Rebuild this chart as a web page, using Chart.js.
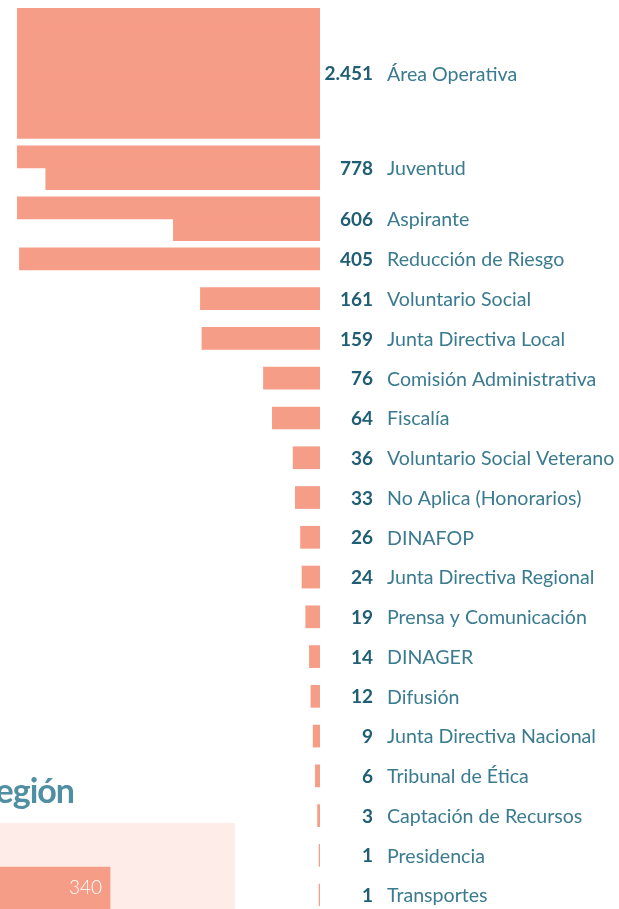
<!DOCTYPE html>
<html lang="es">
<head>
    <meta charset="UTF-8">
    <title>Personal por cargo</title>
    <script src="https://cdn.jsdelivr.net/npm/chart.js"></script>
    <style>
        body {
            margin: 0;
            width: 619px;
            height: 909px;
            overflow: hidden;
            position: relative;
            background: #fff;
            font-family: Lato, sans-serif;
        }
        #cargoWrap {
            position: absolute;
            left: 0; top: 0;
            width: 619px; height: 909px;
        }
        #regionTitle {
            position: absolute;
            right: 545px;
            top: 773px;
            font-size: 34px;
            line-height: 34px;
            font-weight: 700;
            letter-spacing: -1px;
            color: #4f8ea3;
            white-space: nowrap;
        }
        #regionWrap {
            position: absolute;
            left: 0; top: 823px;
            width: 235px; height: 88px;
        }
    </style>
</head>
<body>
    <div id="cargoWrap"><canvas id="cargoChart"></canvas></div>
    <div id="regionTitle">Región</div>
    <div id="regionWrap"><canvas id="regionChart"></canvas></div>

    <script>
        // Personas por cargo
        const cargos = ['Área Operativa', 'Juventud', 'Aspirante', 'Reducción de Riesgo', 'Voluntario Social',
            'Junta Directiva Local', 'Comisión Administrativa', 'Fiscalía', 'Voluntario Social Veterano',
            'No Aplica (Honorarios)', 'DINAFOP', 'Junta Directiva Regional', 'Prensa y Comunicación', 'DINAGER',
            'Difusión', 'Junta Directiva Nacional', 'Tribunal de Ética', 'Captación de Recursos', 'Presidencia', 'Transportes'];
        const personas = [2451, 778, 606, 405, 161, 159, 76, 64, 36, 33, 26, 24, 19, 14, 12, 9, 6, 3, 1, 1];

        // Región (the part of the next chart that is visible)
        const regiones = ['', 'Región'];
        const regionValores = [null, 340];
        const regionMax = 726;

        const salmon = '#f69d87';

        // long bars wrap onto extra rows once they pass this many people
        const valorFila = 408.5;
        const gapCorto = 0.35;   // gap after a wrapped bar
        const gapLargo = 0.83;   // gap after a single row bar

        let cursor = 0;
        const segmentos = [];
        const centros = [];
        personas.forEach((v) => {
            const filas = Math.max(1, Math.ceil(v / valorFila - 1e-9));
            for (let f = 0; f < filas; f++) {
                const resto = v - f * valorFila;
                segmentos.push({ y: cursor + f + 0.5, x: [0, Math.min(valorFila, resto)] });
            }
            centros.push(cursor + filas / 2);
            cursor += filas + (filas > 1 ? gapCorto : gapLargo);
        });
        const yMax = cursor - gapLargo;

        // value + name on the right of each bar
        const etiquetas = {
            id: 'etiquetas',
            afterDatasetsDraw(chart) {
                const ctx = chart.ctx;
                const yScale = chart.scales.y;
                const xBase = chart.chartArea.right;
                ctx.save();
                ctx.textBaseline = 'middle';
                centros.forEach((c, i) => {
                    const y = yScale.getPixelForValue(c) + 1;
                    ctx.font = 'bold 19px Lato';
                    ctx.fillStyle = '#1f5e75';
                    ctx.textAlign = 'right';
                    ctx.fillText(personas[i].toLocaleString('es-CL'), xBase + 53, y);
                    ctx.font = '19.6px Lato';
                    ctx.fillStyle = '#3a7b90';
                    ctx.textAlign = 'left';
                    ctx.fillText(cargos[i], xBase + 67, y);
                });
                ctx.restore();
            }
        };

        new Chart(document.getElementById('cargoChart'), {
            type: 'bar',
            data: {
                datasets: [{
                    data: segmentos,
                    backgroundColor: salmon,
                    borderWidth: 0,
                    inflateAmount: 0.5,
                    barPercentage: 1,
                    categoryPercentage: 1
                }]
            },
            options: {
                indexAxis: 'y',
                responsive: true,
                maintainAspectRatio: false,
                animation: false,
                layout: { padding: { left: 17, right: 299, top: 8, bottom: 3 } },
                plugins: { legend: { display: false }, tooltip: { enabled: false } },
                scales: {
                    x: { display: false, reverse: true, min: 0, max: valorFila },
                    y: { type: 'linear', display: false, reverse: true, offset: false, min: 0, max: yMax, ticks: { stepSize: 10 } }
                }
            },
            plugins: [etiquetas]
        });

        // light pink background + white value label
        const fondoRegion = {
            id: 'fondoRegion',
            beforeDatasetsDraw(chart) {
                const ctx = chart.ctx;
                ctx.save();
                ctx.fillStyle = '#fdece8';
                ctx.fillRect(0, 0, chart.chartArea.right, chart.height);
                ctx.restore();
            },
            afterDatasetsDraw(chart) {
                const ctx = chart.ctx;
                const meta = chart.getDatasetMeta(0);
                ctx.save();
                ctx.font = '300 19px Lato';
                ctx.fillStyle = '#ffffff';
                ctx.textAlign = 'right';
                ctx.textBaseline = 'middle';
                meta.data.forEach((bar, i) => {
                    if (regionValores[i] == null) return;
                    ctx.fillText(regionValores[i], bar.x - 8, 888 - 823);
                });
                ctx.restore();
            }
        };

        new Chart(document.getElementById('regionChart'), {
            type: 'bar',
            data: {
                labels: regiones,
                datasets: [{
                    data: regionValores,
                    backgroundColor: salmon,
                    borderWidth: 0,
                    barPercentage: 1,
                    categoryPercentage: 1
                }]
            },
            options: {
                indexAxis: 'y',
                responsive: true,
                maintainAspectRatio: false,
                animation: false,
                layout: { padding: 0 },
                plugins: { legend: { display: false }, tooltip: { enabled: false } },
                scales: {
                    x: { display: false, min: 0, max: regionMax },
                    y: { display: false }
                }
            },
            plugins: [fondoRegion]
        });
    </script>
</body>
</html>
